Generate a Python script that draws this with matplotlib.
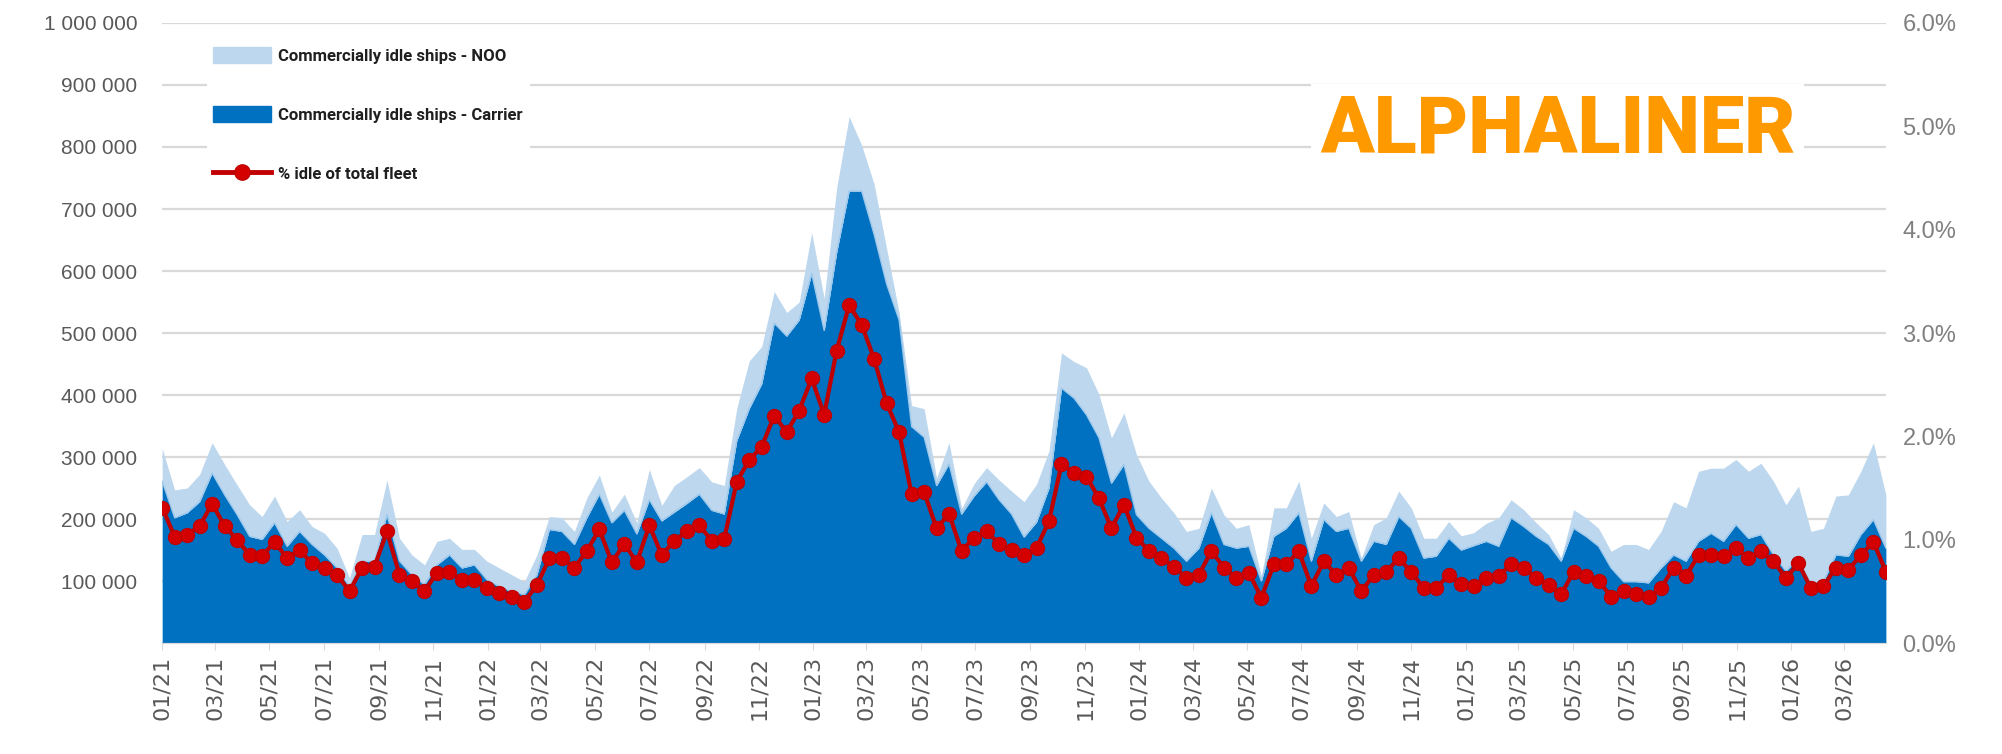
import matplotlib
matplotlib.use("Agg")
import matplotlib.pyplot as plt
import matplotlib.dates as mdates
from matplotlib.lines import Line2D
from matplotlib.patches import Patch
from matplotlib.ticker import FuncFormatter, FixedLocator
import numpy as np
import pandas as pd

# biweekly observations starting January 2021 (thousand TEU)
start_date = "2021-01-01"

carrier = [
    261, 202, 210, 228, 274, 239, 207, 172, 167, 194,
    156, 180, 159, 142, 121, 91, 132, 132, 207, 132,
    110, 94, 126, 142, 121, 126, 102, 91, 83, 78,
    110, 183, 180, 159, 202, 240, 194, 214, 176, 231,
    197, 211, 225, 240, 214, 208, 326, 378, 418, 516,
    495, 521, 596, 504, 630, 729, 729, 659, 579, 521,
    349, 332, 254, 289, 208, 237, 260, 231, 208, 171,
    195, 250, 411, 395, 368, 331, 258, 288, 207, 185,
    169, 153, 132, 153, 210, 159, 153, 156, 100, 172,
    185, 210, 132, 199, 180, 185, 132, 164, 159, 204,
    185, 137, 140, 169, 150, 157, 164, 156, 202, 188,
    172, 159, 132, 185, 172, 156, 121, 99, 99, 97,
    121, 142, 132, 164, 177, 164, 191, 169, 175, 142,
    116, 137, 94, 99, 142, 140, 175, 199, 153,
]

noo = [
    53, 45, 40, 44, 49, 49, 48, 51, 37, 43,
    40, 35, 29, 35, 32, 14, 43, 43, 56, 37,
    32, 32, 38, 27, 30, 25, 30, 30, 27, 21,
    32, 21, 22, 21, 32, 31, 17, 26, 18, 49,
    25, 43, 43, 43, 46, 46, 52, 77, 60, 51,
    38, 29, 66, 52, 104, 120, 74, 81, 57, 12,
    34, 46, 12, 34, 9, 20, 23, 32, 37, 57,
    61, 60, 57, 59, 76, 70, 73, 83, 97, 76,
    65, 57, 48, 32, 40, 48, 32, 35, 8, 46,
    33, 51, 37, 27, 24, 27, 5, 27, 43, 41,
    33, 32, 29, 27, 23, 21, 29, 46, 29, 27,
    22, 16, 5, 30, 30, 29, 27, 60, 60, 54,
    59, 86, 86, 113, 105, 118, 105, 108, 115, 119,
    107, 116, 86, 86, 95, 99, 102, 124, 86,
]

pct_idle = [
    1.31, 1.03, 1.05, 1.13, 1.35, 1.13, 1.00, 0.85, 0.84, 0.98,
    0.82, 0.90, 0.77, 0.73, 0.66, 0.50, 0.73, 0.74, 1.08, 0.66,
    0.60, 0.50, 0.68, 0.69, 0.61, 0.61, 0.53, 0.48, 0.45, 0.40,
    0.56, 0.82, 0.82, 0.73, 0.89, 1.10, 0.78, 0.96, 0.78, 1.14,
    0.85, 0.99, 1.08, 1.14, 0.99, 1.01, 1.56, 1.77, 1.90, 2.20,
    2.04, 2.25, 2.56, 2.21, 2.83, 3.27, 3.08, 2.75, 2.32, 2.04,
    1.44, 1.46, 1.11, 1.25, 0.89, 1.02, 1.08, 0.96, 0.90, 0.85,
    0.92, 1.18, 1.73, 1.65, 1.61, 1.40, 1.11, 1.34, 1.02, 0.89,
    0.82, 0.74, 0.63, 0.66, 0.89, 0.73, 0.63, 0.68, 0.44, 0.76,
    0.76, 0.89, 0.55, 0.79, 0.66, 0.73, 0.50, 0.66, 0.69, 0.82,
    0.69, 0.53, 0.53, 0.66, 0.57, 0.55, 0.63, 0.65, 0.76, 0.73,
    0.63, 0.56, 0.47, 0.69, 0.65, 0.60, 0.45, 0.50, 0.47, 0.45,
    0.53, 0.73, 0.65, 0.85, 0.85, 0.84, 0.92, 0.82, 0.89, 0.79,
    0.63, 0.77, 0.53, 0.55, 0.73, 0.71, 0.85, 0.98, 0.69,
]

legend_labels = [
    "Commercially idle ships - NOO",
    "Commercially idle ships - Carrier",
    "% idle of total fleet",
]

LIGHT = "#BDD7EE"
DARK = "#0070C0"
RED = "#C00000"
GRID = "#D9D9D9"
LABEL = "#595959"
TXT_FONT = ["Liberation Sans", "DejaVu Sans"]

plt.rcParams["font.family"] = TXT_FONT

dates = pd.date_range(start_date, periods=len(carrier), freq="14D")
carrier_teu = np.array(carrier) * 1000
noo_teu = np.array(noo) * 1000

fig = plt.figure(figsize=(20.02, 7.54), dpi=100)
ax = fig.add_axes([0.081, 0.1472, 0.861, 0.8223])
ax2 = ax.twinx()

ax.fill_between(dates, 0, carrier_teu, color=DARK, linewidth=0)
ax.fill_between(dates, carrier_teu, carrier_teu + noo_teu, color=LIGHT, linewidth=0)
ax.plot(dates, carrier_teu, color="#9CC8EC", linewidth=1.0)

ax2.plot(dates, pct_idle, color=RED, linewidth=3, marker="o",
         markersize=10, markerfacecolor="#D40000", markeredgecolor=RED)

ax.set_xlim(dates[0], dates[-1])
ax.set_ylim(0, 1_000_000)
ax2.set_ylim(0, 6)

# gridlines behind the areas
ax.set_axisbelow(True)
ax.yaxis.set_major_locator(FixedLocator(np.arange(0, 1_000_001, 100_000)))
ax.grid(axis="y", color=GRID, linewidth=1.6)
ax.yaxis.set_major_formatter(FuncFormatter(
    lambda v, p: "" if v == 0 else f"{int(v):,}".replace(",", " ")))
ax2.yaxis.set_major_locator(FixedLocator(np.arange(0, 6.01, 1)))
ax2.yaxis.set_major_formatter(FuncFormatter(lambda v, p: f"{v:.1f}%"))

ax.xaxis.set_major_locator(mdates.MonthLocator(bymonth=[1, 3, 5, 7, 9, 11]))
ax.xaxis.set_major_formatter(mdates.DateFormatter("%m/%y"))

ax.tick_params(axis="y", length=0, pad=18, labelsize=15, labelcolor=LABEL)
ax2.tick_params(axis="y", length=0, pad=12, labelsize=17, labelcolor="#808080")
ax.tick_params(axis="x", length=5, color=GRID, pad=4, labelsize=16,
               labelcolor=LABEL, labelrotation=90)

for a in (ax, ax2):
    for side in ("top", "left", "right"):
        a.spines[side].set_visible(False)
    a.spines["bottom"].set_color(GRID)

handles = [
    Patch(facecolor=LIGHT, edgecolor=LIGHT),
    Patch(facecolor=DARK, edgecolor=DARK),
    Line2D([0], [0], color=RED, linewidth=3.5, marker="o", markersize=11,
           markerfacecolor="#D40000", markeredgecolor=RED),
]
leg = ax2.legend(handles, legend_labels, loc="upper left",
                 bbox_to_anchor=(0.021, 0.985), frameon=True, fancybox=False,
                 facecolor="white", edgecolor="none", framealpha=1,
                 prop={"family": ["Roboto", "Liberation Sans"], "size": 12,
                       "weight": "bold"},
                 handlelength=3.45, handleheight=1.1, handletextpad=0.45,
                 labelspacing=2.55, borderpad=0.4)
for t in leg.get_texts():
    t.set_color("#1F1F1F")

fig.text(0.778, 0.827, "ALPHALINER", color="#FF9900", fontsize=57,
         fontweight="black", family=["Roboto", "DejaVu Sans"],
         ha="center", va="center",
         bbox=dict(facecolor="white", edgecolor="none", pad=6))

# month labels in a wider face, as in the source
fig.canvas.draw()
for t in ax.get_xticklabels():
    t.set_family(["DejaVu Sans"])

fig.savefig("out.png", dpi=100)
